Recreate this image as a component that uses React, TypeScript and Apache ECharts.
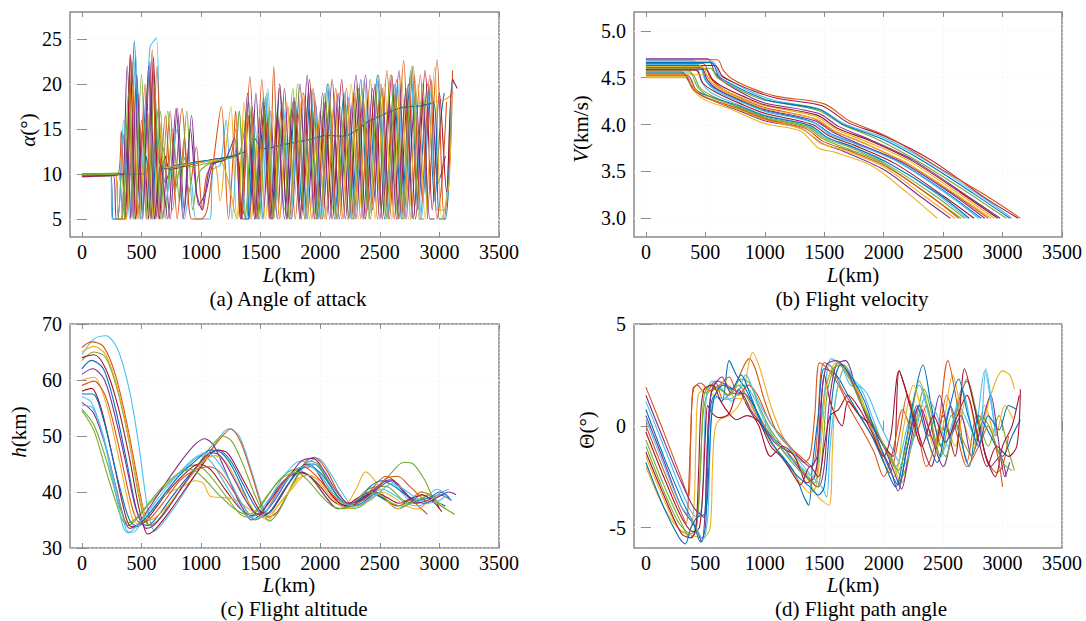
import React, { useEffect, useRef } from 'react';
import * as echarts from 'echarts';

const X_TICKS = [0, 500, 1000, 1500, 2000, 2500, 3000, 3500];
const ALPHA_TICKS = [5, 10, 15, 20, 25];
const V_TICKS = [3, 3.5, 4, 4.5, 5];
const H_TICKS = [30, 40, 50, 60, 70];
const THETA_TICKS = [-5, 0, 5];
const COLORS = ['#0072BD', '#D95319', '#EDB120', '#7E2F8E', '#77AC30', '#4DBEEE', '#A2142F'];

// (a) angle of attack, deg vs range km
const ALPHA_LINES: number[][][] = [
  [[0,9.8],[240,9.9],[262,5],[300,5],[345,14.5],[385,6],[440,24.8],[490,5],[540,19],[590,5],[640,17.2],[700,9],[760,10.8],[900,11.2],[1050,11.5],[1200,11.8],[1300,12],[1330,7],[1380,5],[1430,17.5],[1480,5],[1540,18.5],[1600,5],[1660,19.5],[1720,5],[1790,18],[1850,6],[1920,19.5],[1980,5],[2060,20],[2120,5],[2200,19],[2260,5],[2340,20.5],[2400,6],[2480,21],[2540,5],[2620,20],[2680,5],[2760,21.5],[2820,6],[2900,20],[2960,7],[3010,16],[3040,19]],
  [[0,9.7],[300,9.9],[330,14.8],[360,5],[410,23.2],[455,5],[500,16],[540,5],[590,23.8],[640,5],[700,16.5],[760,6],[840,17.3],[900,8],[960,13],[1010,6],[1050,10],[1150,11.6],[1250,12],[1290,17],[1330,5],[1390,16.5],[1450,5],[1510,20.5],[1570,5],[1610,21.9],[1660,5],[1730,17.5],[1790,5],[1860,19],[1930,5],[2000,17],[2050,5],[2130,19.5],[2190,5],[2280,19],[2340,5],[2420,20.5],[2480,5],[2560,21.5],[2620,5],[2700,22.6],[2760,5],[2840,21],[2900,6],[2980,22.7],[3040,5],[3090,12],[3110,21.5]],
  [[0,9.9],[500,10],[530,9.8],[560,12],[600,5],[650,16],[700,10.5],[800,10.8],[950,11.2],[1100,11.5],[1160,7],[1200,11.8],[1250,17.5],[1300,5],[1360,16],[1420,5],[1500,17],[1560,12.9],[1700,13.2],[1850,13.6],[2000,14],[2150,14.2],[2250,14.5],[2350,15.5],[2450,16.2],[2550,16.8],[2650,17.3],[2800,17.8],[2950,18],[3050,18.3],[3120,19]],
  [[0,9.8],[260,10],[290,5],[330,5],[380,22],[430,5],[470,19],[510,6],[570,22.5],[620,5],[680,13],[740,5],[800,17.3],[860,6],[920,16.5],[980,6.5],[1040,8],[1100,11],[1200,11.6],[1300,12],[1350,5],[1400,5],[1460,19],[1520,5],[1580,17],[1640,5],[1700,19.5],[1760,5],[1830,20],[1890,5],[1960,18],[2020,5],[2100,20.5],[2160,5],[2240,18.5],[2300,5],[2380,21],[2440,6],[2520,19.5],[2580,5],[2660,21.5],[2720,5],[2800,19],[2860,7],[2930,20.5],[2990,9],[3050,12]],
  [[0,10],[320,10.1],[360,5],[400,21],[445,5],[500,8],[560,21.5],[610,5],[660,17],[700,5],[760,15],[820,7],[880,17],[930,6],[980,10],[1050,11],[1200,11.7],[1320,12.2],[1400,18],[1460,6],[1520,18.5],[1580,5],[1640,17],[1700,6],[1770,19.5],[1830,5],[1900,18.5],[1960,5],[2040,19],[2100,6],[2170,17.5],[2230,5],[2310,20],[2370,5],[2450,18],[2510,6],[2590,21],[2650,5],[2720,19],[2780,5],[2860,20],[2900,5]],
  [[0,9.8],[240,9.8],[255,5],[300,5],[350,16],[400,5],[450,23.5],[500,5],[570,24],[625,25.1],[670,5],[720,8],[800,15],[860,5],[920,9],[960,5],[1070,5],[1100,10.5],[1160,11],[1210,16],[1260,5],[1320,17],[1380,5],[1450,15.5],[1510,5],[1560,19.5],[1620,6],[1690,17.5],[1750,5],[1820,16.5],[1880,5],[1950,19],[2010,5],[2080,17.5],[2140,5],[2230,18],[2290,5],[2370,20.5],[2430,7],[2500,19],[2560,5],[2650,20],[2710,5],[2790,21],[2850,5],[2920,19.5],[2980,6],[3040,6],[3100,19],[3120,20.5]],
  [[0,9.7],[280,9.9],[310,5],[360,5],[405,23.3],[450,5],[510,15],[560,5],[600,23],[650,5],[700,12],[740,10.5],[900,11],[1000,11.3],[1100,11.6],[1250,11.9],[1300,12.1],[1340,5],[1400,16.5],[1460,5],[1530,17.5],[1590,5],[1660,20],[1720,5],[1780,18.5],[1840,5],[1910,20.5],[1970,5],[2040,18],[2100,5],[2180,20.5],[2240,5],[2320,19.5],[2380,5],[2460,20],[2520,5],[2600,21],[2660,5],[2740,20],[2800,5],[2880,21.5],[2940,6],[3000,19],[3060,8],[3110,20.5],[3150,19.5]],
  [[0,10],[520,10],[540,12],[580,5],[620,14],[680,10.6],[850,11],[1000,11.4],[1200,11.8],[1330,12.3],[1380,12.5],[1400,5],[1450,14],[1520,12.8],[1700,13.3],[1900,13.8],[2050,14.3],[2200,14.2],[2300,14.8],[2400,15.8],[2500,16.4],[2600,17],[2700,17.4],[2850,17.6],[2950,17.9],[3000,5],[3050,5],[3100,18]],
  [[0,9.8],[330,10],[370,5],[420,22.5],[470,5],[530,20],[580,5],[630,22],[680,5],[740,17],[800,5],[860,14],[920,5],[1000,5],[1050,6],[1100,11],[1170,17.5],[1230,5],[1290,15],[1340,5],[1410,20.8],[1470,5],[1540,16],[1600,5],[1680,18],[1740,5],[1810,17],[1870,5],[1940,19.5],[2000,5],[2080,18],[2140,5],[2220,19.5],[2280,5],[2360,18.5],[2420,5],[2510,20],[2570,5],[2640,20.5],[2700,5],[2780,22],[2840,5],[2920,21],[2980,5],[3020,9],[3060,18]],
  [[0,9.9],[280,10],[310,5],[370,5],[430,20],[480,5],[550,17],[600,5],[660,14],[700,10.7],[850,11],[1000,11.3],[1150,11.6],[1300,5],[1360,18],[1420,5],[1480,14.5],[1540,5],[1600,17],[1660,5],[1720,18],[1780,7],[1850,19],[1910,5],[1980,16],[2040,5],[2120,18.5],[2180,5],[2260,20],[2320,5],[2400,19],[2460,5],[2540,20],[2600,5],[2680,21],[2740,5],[2820,20],[2880,5],[2960,21.8],[3020,5],[3080,9],[3100,18.5]],
  [[0,9.8],[350,10],[380,14],[410,5],[460,21],[510,5],[560,22],[610,5],[660,11],[720,5],[790,17.3],[850,5],[910,15],[960,8],[1010,6],[1080,11],[1200,11.6],[1280,14],[1330,5],[1390,19],[1450,5],[1520,18],[1580,5],[1640,16.5],[1700,5],[1770,18],[1830,5],[1890,21],[1950,5],[2020,19],[2080,5],[2150,19],[2210,5],[2300,21],[2360,5],[2440,19.5],[2500,5],[2580,18],[2640,5],[2720,19.5],[2780,5],[2860,18.5],[2920,5],[2960,5]],
  [[0,9.9],[300,10],[340,5],[390,19],[440,5],[500,21],[550,5],[610,20],[660,5],[720,17],[780,8],[850,12],[900,10.8],[1050,11.2],[1200,11.7],[1280,12],[1320,17],[1370,5],[1430,16],[1490,5],[1550,19],[1610,5],[1680,16],[1740,5],[1810,20],[1870,5],[1940,17],[2000,5],[2070,20],[2130,5],[2210,17.5],[2270,5],[2350,19.5],[2410,5],[2490,21],[2550,5],[2630,19],[2690,5],[2770,22],[2830,5],[2870,5]],
];

// (b) flight velocity, km/s vs range km
const VEL_LINES: number[][][] = [
  [[0,4.50],[330,4.50],[400,4.36],[500,4.26],[700,4.17],[1000,4.01],[1300,3.93],[1450,3.75],[1600,3.70],[1900,3.56],[2200,3.27],[2450,3.00]],
  [[0,4.52],[350,4.52],[420,4.37],[520,4.28],[800,4.14],[1000,4.04],[1300,3.96],[1480,3.80],[1650,3.72],[2000,3.52],[2300,3.24],[2560,3.00]],
  [[0,4.55],[380,4.55],[450,4.40],[550,4.31],[800,4.17],[1000,4.07],[1350,3.97],[1500,3.84],[1700,3.74],[2000,3.58],[2400,3.23],[2650,3.00]],
  [[0,4.68],[400,4.68],[470,4.45],[560,4.33],[800,4.20],[1000,4.10],[1350,4.00],[1520,3.86],[1700,3.78],[2000,3.62],[2400,3.30],[2700,3.00]],
  [[0,4.58],[420,4.58],[480,4.44],[580,4.35],[800,4.22],[1000,4.12],[1400,4.00],[1540,3.88],[1750,3.78],[2100,3.58],[2500,3.24],[2760,3.00]],
  [[0,4.62],[450,4.62],[510,4.46],[600,4.37],[800,4.25],[1000,4.15],[1400,4.03],[1560,3.90],[1800,3.78],[2100,3.62],[2500,3.30],[2820,3.00]],
  [[0,4.65],[480,4.65],[540,4.50],[620,4.40],[800,4.28],[1000,4.18],[1400,4.07],[1580,3.93],[1800,3.82],[2200,3.58],[2600,3.25],[2880,3.00]],
  [[0,4.53],[500,4.53],[550,4.45],[640,4.38],[800,4.29],[1000,4.20],[1420,4.09],[1600,3.95],[1850,3.82],[2200,3.62],[2600,3.29],[2930,3.00]],
  [[0,4.70],[520,4.70],[580,4.55],[660,4.45],[850,4.31],[1000,4.23],[1450,4.12],[1620,3.98],[1900,3.83],[2250,3.62],[2700,3.24],[2980,3.00]],
  [[0,4.60],[540,4.60],[600,4.50],[680,4.44],[850,4.33],[1000,4.26],[1450,4.15],[1650,4.00],[1950,3.84],[2300,3.60],[2700,3.28],[3030,3.00]],
  [[0,4.67],[560,4.67],[620,4.53],[700,4.47],[900,4.34],[1100,4.25],[1450,4.17],[1680,4.00],[2000,3.86],[2350,3.62],[2800,3.25],[3080,3.00]],
  [[0,4.63],[580,4.63],[640,4.52],[720,4.46],[900,4.36],[1100,4.28],[1480,4.20],[1700,4.02],[2000,3.88],[2400,3.62],[2850,3.22],[3130,3.00]],
  [[0,4.56],[300,4.56],[380,4.42],[470,4.33],[800,4.19],[1000,4.09],[1380,3.99],[1530,3.86],[1720,3.77],[2050,3.58],[2450,3.27],[2720,3.00]],
  [[0,4.69],[600,4.69],[650,4.58],[720,4.49],[900,4.38],[1100,4.30],[1500,4.22],[1710,4.04],[2050,3.86],[2450,3.55],[2850,3.25],[3150,3.00]],
  [[0,4.51],[340,4.51],[410,4.38],[500,4.29],[800,4.15],[1000,4.05],[1320,3.95],[1470,3.80],[1680,3.72],[2000,3.55],[2350,3.23],[2600,3.00]],
  [[0,4.61],[460,4.61],[520,4.47],[600,4.38],[800,4.26],[1000,4.16],[1420,4.04],[1570,3.92],[1780,3.80],[2150,3.60],[2550,3.28],[2850,3.00]],
  [[0,4.57],[360,4.57],[430,4.41],[530,4.30],[800,4.18],[1000,4.08],[1360,3.98],[1510,3.85],[1710,3.76],[2020,3.58],[2420,3.25],[2680,3.00]],
  [[0,4.64],[440,4.64],[500,4.47],[590,4.36],[800,4.24],[1000,4.14],[1410,4.02],[1550,3.89],[1770,3.79],[2120,3.60],[2520,3.27],[2800,3.00]],
  [[0,4.59],[500,4.59],[560,4.48],[650,4.40],[820,4.30],[1000,4.21],[1440,4.10],[1610,3.96],[1880,3.83],[2230,3.62],[2650,3.27],[2960,3.00]],
  [[0,4.66],[550,4.66],[610,4.52],[690,4.45],[880,4.33],[1050,4.25],[1460,4.16],[1660,4.00],[1980,3.85],[2330,3.61],[2760,3.26],[3060,3.00]],
  [[0,4.54],[320,4.54],[390,4.39],[480,4.30],[780,4.17],[1000,4.06],[1340,3.96],[1490,3.82],[1690,3.73],[2010,3.56],[2380,3.25],[2630,3.00]],
  [[0,4.62],[470,4.62],[530,4.48],[610,4.39],[800,4.27],[1000,4.17],[1430,4.06],[1590,3.93],[1820,3.81],[2180,3.60],[2580,3.28],[2900,3.00]],
];

// (c) flight altitude, km vs range km
const ALT_LINES: number[][][] = [
  [[0,54.5],[100,51],[200,44],[280,38.5],[340,35],[390,34],[450,35],[550,37.5],[700,41],[850,44],[950,44.8],[1050,43.5],[1200,39.5],[1330,36],[1400,35.5],[1500,37.5],[1650,42],[1780,44],[1900,43],[2050,39],[2150,37],[2250,37.5],[2400,40.5],[2550,41],[2700,38.5],[2800,38],[2900,39.5],[2960,38]],
  [[0,64.5],[100,67.3],[200,67.9],[300,65.5],[400,58],[480,48],[530,40],[570,35],[610,33],[680,34.5],[800,38],[950,43],[1100,48],[1230,51.3],[1320,50],[1420,44],[1500,38.5],[1570,35.5],[1650,36.5],[1760,41],[1880,45],[1980,46],[2080,43.5],[2180,40],[2280,37.5],[2380,38],[2480,41],[2580,42],[2680,40],[2780,38],[2880,39],[2980,40.5],[3060,39.5],[3100,38.5]],
  [[0,58],[80,58.5],[160,55],[260,46],[340,38],[400,34],[460,33.8],[560,35.5],[700,39.5],[850,43],[980,45],[1080,44],[1200,40.5],[1330,37],[1430,35.8],[1530,37],[1650,40.5],[1800,43.5],[1900,43],[2000,41],[2100,38.5],[2200,37.5],[2320,39],[2420,40],[2520,39],[2650,37.5],[2750,38.5],[2850,40],[2950,39],[3000,37]],
  [[0,62],[80,63.5],[180,62],[280,55],[380,45],[450,37.5],[500,34.5],[550,34],[630,35.5],[750,39],[900,43],[1050,46.5],[1150,47.5],[1250,45.5],[1350,41.5],[1450,37.5],[1520,35.8],[1600,37],[1720,41],[1850,44.5],[1950,45],[2050,42.5],[2150,39],[2250,37.5],[2350,38],[2450,39.5],[2550,38.5],[2650,37],[2750,38],[2850,39.5],[2950,38.5],[3050,37.5]],
  [[0,65.8],[80,66.8],[180,66],[280,61],[380,52],[460,43],[520,36.5],[570,34],[640,35],[760,38.5],[900,42.5],[1050,46.5],[1180,50],[1250,51.3],[1330,49],[1420,43.5],[1500,38],[1560,35.5],[1640,36.5],[1760,41],[1880,45.5],[1950,46.2],[2050,44],[2150,40],[2250,37.5],[2350,38.5],[2450,41],[2550,42.8],[2650,41.5],[2750,39],[2850,37],[2900,36]],
  [[0,60],[100,60.5],[200,56],[300,47],[380,39],[430,35],[480,34.3],[560,36],[700,39.5],[850,41],[950,42],[1020,41.5],[1080,39.2],[1200,39],[1300,38.5],[1400,37],[1480,36],[1560,35],[1640,37.5],[1760,40.5],[1880,43],[2000,42],[2100,39.5],[2200,37.5],[2300,40.5],[2380,43.6],[2460,42],[2560,38.5],[2650,37],[2750,38.5],[2850,40],[2950,39],[3050,37]],
  [[0,56],[100,54],[200,48],[290,40.5],[350,35.5],[400,33.5],[460,34],[560,37],[700,41.5],[850,46],[950,48.5],[1030,49.5],[1100,48.5],[1200,44],[1300,39],[1380,36],[1420,35],[1500,36],[1600,39.5],[1720,42.5],[1850,43.5],[1950,42],[2050,39],[2150,37],[2250,37.8],[2350,39],[2450,40.5],[2550,42],[2600,42.2],[2700,40],[2800,38],[2900,38.5],[3000,39.5],[3100,38.5]],
  [[0,63.5],[100,65],[200,64],[300,58],[400,48.5],[470,40],[520,35.5],[570,34],[640,35],[780,39],[930,43.5],[1080,48],[1180,50],[1260,49],[1360,44.5],[1450,39.5],[1530,36],[1570,34.8],[1650,36.5],[1780,42],[1900,45.5],[1980,45],[2080,41.5],[2180,38],[2280,37],[2380,38],[2480,40.5],[2600,43.5],[2700,45.3],[2780,45],[2880,42],[2960,38.5],[3050,37],[3130,36]],
  [[0,55.5],[90,55],[180,50],[270,42],[340,36],[380,33],[430,32.8],[500,34.5],[620,37.5],[760,41.5],[900,45],[1000,46.5],[1080,45.5],[1200,41.5],[1320,37.5],[1400,35.5],[1470,36],[1580,39],[1700,43],[1830,45.5],[1920,45],[2020,42.5],[2120,39],[2220,37.5],[2320,38],[2420,39.5],[2520,40.5],[2620,39.5],[2720,38],[2820,37.5],[2920,38.5],[3020,40],[3080,40.5]],
  [[0,64],[100,64.5],[200,62],[300,55.5],[400,46],[460,39],[510,34.5],[550,32.5],[600,33],[700,35.5],[850,40],[1000,44.5],[1130,47.5],[1220,47],[1320,43.5],[1420,39.5],[1500,36.5],[1560,36.2],[1650,38.5],[1780,43],[1880,45],[1960,44],[2060,40.5],[2160,38],[2260,37.5],[2360,39],[2460,40],[2560,39],[2660,38],[2760,38.8],[2860,39.5],[2960,38],[3020,36.5]],
  [[0,57.5],[90,57.5],[180,53],[270,45],[340,39],[400,35],[450,34],[520,35],[650,38.5],[800,42.5],[950,45.5],[1080,47.5],[1170,47],[1260,44.5],[1360,40],[1440,36.5],[1500,35.5],[1580,36.5],[1700,40.5],[1830,44],[1920,44.5],[2020,43],[2120,40],[2220,38],[2320,38.5],[2420,41],[2520,42],[2620,41],[2720,39.5],[2820,38.5],[2920,39],[3000,40],[3080,39]],
  [[0,59],[100,59.8],[200,57],[300,49],[380,41],[440,36],[490,34.5],[560,35],[680,38],[820,42],[960,44],[1060,44.5],[1160,43.5],[1260,40.5],[1370,37],[1450,35],[1530,36],[1640,40],[1760,43.5],[1860,44.5],[1960,43],[2060,40.5],[2160,38.5],[2260,38],[2360,38.5],[2460,40.5],[2560,42.5],[2650,42.8],[2750,41],[2850,39],[2900,38]],
  [[0,65],[100,66],[200,64.5],[300,58.5],[390,50],[460,42],[510,37],[560,35],[620,35.5],[740,38],[880,42],[1020,45.5],[1120,46.5],[1220,45],[1320,41],[1420,37.5],[1500,35.5],[1580,36],[1700,39],[1820,42.5],[1920,43],[2020,41],[2120,38.5],[2220,37],[2320,37.5],[2420,38.5],[2520,40],[2620,39],[2720,37.5],[2820,37],[2920,38.5],[3020,39.5]],
  [[0,61],[90,62],[190,60],[290,52.5],[380,44],[440,38],[490,35],[540,33.5],[600,34],[720,37],[860,41.5],[980,45],[1080,47],[1160,46.5],[1260,43],[1360,39],[1440,36.5],[1500,36],[1600,38],[1720,42],[1840,45.5],[1940,46],[2040,43.5],[2140,40],[2240,38],[2340,38.5],[2440,40],[2540,41.5],[2600,42],[2680,40.5],[2780,38.5],[2880,38],[2980,39],[3080,40],[3140,39.5]],
  [[0,54.8],[100,52],[200,46],[280,40],[330,36.5],[380,34.5],[440,35],[540,37.5],[680,41],[820,43.5],[920,44],[1020,42.5],[1150,39.5],[1280,37],[1380,36],[1450,36.5],[1560,39.5],[1680,42.5],[1800,43.5],[1900,42],[2000,39.5],[2100,37.5],[2200,37],[2300,38.5],[2400,40],[2500,39.5],[2600,38],[2700,37.5],[2800,38.5],[2880,39]],
  [[0,57],[80,56],[170,50.5],[250,43],[310,37],[350,33.5],[390,32.7],[440,33.5],[540,36],[680,40],[820,43.5],[940,46],[1040,47],[1120,46],[1240,42],[1340,38],[1420,35.5],[1480,35.2],[1560,37],[1680,41],[1800,44],[1900,44.8],[2000,43],[2100,40],[2200,38],[2300,37.5],[2400,38.5],[2500,40],[2600,41.5],[2700,40.5],[2800,39],[2900,38],[3000,38.5],[3060,39.5]],
];

// (d) flight path angle, deg vs range km
const PATH_LINES: number[][][] = [
  [[0,1.9],[150,-0.3],[300,-2.6],[360,-3.5],[375,-1],[395,1.8],[430,2],[500,1.6],[580,2.2],[650,1.3],[750,2],[870,3.3],[920,2.8],[1000,1.2],[1100,-0.3],[1200,-1],[1300,-1.5],[1400,-2],[1440,-0.5],[1470,2.5],[1500,3.1],[1560,2.9],[1650,1.8],[1750,0.9],[1850,0],[1950,-1],[2050,-2.3],[2130,-0.5],[2200,1.5],[2280,0],[2360,-2],[2450,-0.5],[2540,3.2],[2620,1],[2700,-1.8],[2780,0.5],[2860,-1.5],[2950,-2.3],[3000,-2],[3050,-0.5]],
  [[0,-2],[150,-4],[300,-5.2],[400,-5.4],[480,-5.5],[540,-5],[560,-2],[580,-0.2],[620,0.3],[700,0.5],[800,1.2],[900,3.6],[960,2.8],[1050,1],[1150,-0.5],[1250,-1.5],[1350,-2.5],[1450,-3.5],[1540,-3.9],[1570,-1],[1600,1.5],[1680,2.9],[1750,2.2],[1850,0.8],[1950,-0.5],[2050,-1.5],[2150,-2.8],[2250,-0.5],[2330,1],[2420,-1],[2500,0.5],[2600,-1],[2700,1.5],[2800,-0.5],[2900,1.5],[3000,2.7],[3060,2.5],[3100,1.8]],
  [[0,0.5],[150,-1.7],[300,-4],[420,-5],[470,-5.7],[500,-4],[520,-0.5],[545,1.5],[600,2.2],[680,2],[760,1.7],[850,1.5],[950,0.5],[1050,-0.5],[1150,-1],[1250,-1.8],[1350,-2.5],[1450,-3],[1500,-2],[1540,1],[1600,3],[1680,3.2],[1760,2],[1850,0.5],[1950,-0.8],[2050,-2],[2120,-3.2],[2200,-1],[2300,1],[2400,-0.5],[2500,-2],[2600,0.5],[2700,2.2],[2800,0],[2900,-2],[2980,-1.5],[3030,-2.5]],
  [[0,-1],[150,-3.2],[280,-4.8],[380,-5.3],[430,-4.8],[460,-2],[480,0.5],[520,1.6],[600,1.9],[700,1.5],[800,2.3],[870,2.1],[950,1],[1050,-0.2],[1150,-1],[1250,-1.7],[1350,-2.4],[1420,-2.8],[1460,-1],[1500,1.5],[1570,2.8],[1660,3],[1760,1.8],[1860,0.5],[1960,-0.5],[2060,-1.5],[2150,-2.5],[2250,-0.5],[2340,1.8],[2430,0],[2520,-1.5],[2620,0.8],[2700,2.3],[2790,0.5],[2880,-1],[2970,0.5],[3040,-1],[3100,-2.2]],
  [[0,1.2],[150,-1],[300,-3.2],[380,-4.2],[430,-4.5],[470,-4],[490,-1],[510,1.5],[560,2.2],[640,1.8],[720,1.2],[820,2],[900,1.5],[1000,0.2],[1100,-0.8],[1200,-1.5],[1300,-2],[1400,-2.5],[1450,-1.5],[1490,1],[1560,3.3],[1640,3],[1720,2],[1800,1.9],[1900,0.5],[2000,-1],[2100,-2],[2200,0],[2300,2],[2380,0.5],[2480,-1.5],[2570,0],[2660,1.8],[2760,-0.5],[2850,2.7],[2920,0.5],[2950,-0.5]],
  [[0,-0.3],[150,-2.5],[300,-4.5],[400,-5.2],[450,-5],[480,-3],[500,-0.5],[520,1],[560,0.6],[620,0.4],[700,0.6],[780,1.8],[850,1],[950,0],[1050,-1.5],[1150,-1],[1250,-1.5],[1300,-2.2],[1350,-2.8],[1420,-2.5],[1460,-0.5],[1500,2.5],[1560,1],[1650,0],[1700,1.2],[1800,0.5],[1900,0],[2000,-1],[2080,-1.5],[2130,2.7],[2200,1.5],[2300,-0.5],[2400,-2],[2500,0.5],[2600,-1.5],[2680,2.8],[2760,1],[2860,-1.5],[2940,-2.5],[3000,-1],[3080,0],[3140,1.5]],
  [[0,0.8],[150,-1.5],[300,-3.6],[400,-4.8],[460,-5.7],[500,-5],[520,-2],[540,0.8],[580,1.5],[640,1.2],[700,3.2],[760,2.5],[840,1.8],[950,0.5],[1050,-0.8],[1150,-1.5],[1250,-2.3],[1330,-3.5],[1370,-3.9],[1400,-2],[1450,0.5],[1500,2.8],[1600,2.5],[1700,1.5],[1800,0.5],[1900,-0.5],[2000,-1.8],[2100,-3],[2180,-1],[2260,1.5],[2330,3],[2400,1],[2480,-1],[2560,1],[2640,-0.5],[2720,-2],[2800,0.5],[2900,-0.5],[3000,-1.5],[3080,-0.5],[3150,0.3]],
  [[0,0],[150,-2.2],[300,-4.3],[340,-4.8],[360,-3],[380,0],[400,1.8],[460,2.1],[540,1.7],[620,2],[700,2.4],[780,1.5],[860,2],[940,1.5],[1040,0.2],[1140,-0.5],[1240,-1.2],[1330,-1.8],[1380,-1.5],[1420,0.5],[1460,3.1],[1530,2.8],[1620,2],[1720,0.8],[1820,-0.2],[1920,-1.3],[2000,-2.5],[2080,-1.2],[2160,0.8],[2260,-0.5],[2360,1],[2440,-1],[2530,1.5],[2620,-0.5],[2700,-2],[2800,-1],[2880,0],[2960,-1.5],[3000,-3]],
  [[0,-1.5],[150,-3.6],[270,-5],[350,-5.3],[400,-4.3],[420,-1],[440,1.5],[500,1.8],[580,1.5],[660,2.2],[740,1.4],[820,1.3],[900,0.8],[1000,-0.3],[1100,-1.2],[1200,-2],[1300,-2.8],[1380,-3.3],[1430,-3],[1480,-0.5],[1520,2],[1600,3.1],[1700,2.5],[1800,1.5],[1900,-0.2],[2000,-1.5],[2090,-2.5],[2170,0],[2250,2],[2330,0.5],[2420,-1.5],[2500,0],[2580,2.5],[2660,0.5],[2750,-1],[2850,1],[2940,-0.5],[3020,1],[3090,0.3]],
  [[0,1.5],[150,-0.7],[300,-2.8],[400,-4],[450,-4.3],[490,-4.5],[510,-2],[530,0.5],[560,1.8],[640,2.4],[720,1.6],[800,1.6],[880,0.8],[980,0],[1080,-0.8],[1180,-1.2],[1280,-1.5],[1380,-2],[1440,-1.5],[1470,1],[1520,3],[1600,3.2],[1700,2.6],[1800,1.2],[1900,0],[2000,-1],[2090,-2.3],[2150,-3.1],[2220,-1],[2300,1],[2380,-0.5],[2470,1.5],[2560,-0.5],[2650,0.5],[2740,-1.5],[2820,0],[2900,1.5],[2960,-0.5],[3020,-2.5],[3060,-1.8]],
  [[0,-0.7],[150,-2.9],[300,-4.8],[370,-5.5],[420,-5.2],[450,-3],[470,-0.5],[490,1.5],[540,2],[620,1.8],[700,1.5],[780,2],[870,1.2],[960,0.3],[1060,-0.5],[1160,-1.3],[1260,-2],[1360,-2.6],[1440,-3],[1490,-1],[1530,1.8],[1620,3.1],[1720,2.2],[1820,1],[1920,0],[2020,-1.2],[2120,-2.2],[2220,0],[2300,2.2],[2390,0.5],[2480,-1.5],[2570,0.5],[2650,-0.5],[2740,-1.5],[2830,0.5],[2920,-0.5],[3000,-1.8],[3080,-2.2]],
  [[0,0.3],[150,-1.9],[300,-4],[390,-4.6],[440,-5.2],[480,-5.6],[520,-4.5],[540,-1],[560,1.2],[600,1.4],[680,1.3],[760,1.5],[840,2.5],[900,1.8],[1000,0.6],[1100,-0.3],[1200,-1],[1300,-1.8],[1400,-2.5],[1480,-3],[1520,-3.5],[1550,-1],[1600,1.5],[1680,2.9],[1760,2.2],[1860,1.6],[1960,0.2],[2060,-1],[2160,-2],[2260,-0.5],[2360,1.5],[2450,0.5],[2540,-1],[2630,1],[2720,0],[2800,-1],[2860,2.8],[2900,1.5],[2940,-0.5]],
  [[0,-1.3],[150,-3.4],[300,-5.3],[380,-5.5],[420,-5],[445,-2],[460,0.5],[490,1.8],[560,2],[630,1.2],[700,0.6],[760,0.3],[850,0.5],[950,0.2],[1050,-1],[1150,-1.6],[1250,-2.5],[1300,-2.9],[1380,-2],[1450,-2.5],[1500,-1],[1550,0.5],[1620,0.8],[1700,1.5],[1800,0.8],[1900,-0.3],[2000,-1.5],[2060,-0.5],[2130,2.7],[2220,1],[2320,-1],[2420,0.5],[2520,-0.8],[2620,0.5],[2700,1.5],[2790,-0.5],[2870,-2],[2950,-1],[3050,-1.5],[3120,-1],[3150,1.8]],
  [[0,-1.8],[150,-4],[280,-5.5],[330,-5.8],[380,-5],[430,-4.5],[500,-4.3],[530,-2],[550,0.3],[580,1.5],[650,2],[720,1.8],[800,2.5],[880,1.5],[980,0],[1080,-1],[1180,-1.8],[1280,-2.5],[1380,-3],[1450,-3.4],[1500,-3],[1540,-0.5],[1580,2],[1640,3],[1740,2.3],[1840,1.2],[1940,-0.5],[2040,-2],[2120,-2.9],[2200,-1],[2280,1],[2360,-0.5],[2450,-1.8],[2540,0.5],[2630,2.3],[2710,0.5],[2800,-1],[2880,0.5],[2970,-0.2],[3050,1],[3120,0.8]],
];

const FONT = 'Liberation Serif, Times New Roman, serif';
const FRAME = '#8a8a8a';

export default function App() {
  const ref = useRef<HTMLDivElement>(null);

  useEffect(() => {
    if (!ref.current) return;
    const chart = echarts.init(ref.current, undefined, { renderer: 'svg' });

    const panels = [
      { left: 70, top: 12, width: 429, height: 225, min: 3, max: 28, split: 5, ticks: ALPHA_TICKS, fmt: (v: number) => String(v), lines: ALPHA_LINES, off: 0 },
      { left: 634, top: 12, width: 428, height: 225, min: 2.8, max: 5.2, split: 5, ticks: V_TICKS, fmt: (v: number) => v.toFixed(1), lines: VEL_LINES, off: 2 },
      { left: 70, top: 324, width: 429, height: 224, min: 30, max: 70, split: 4, ticks: H_TICKS, fmt: (v: number) => String(v), lines: ALT_LINES, off: 4 },
      { left: 634, top: 324, width: 428, height: 224, min: -6, max: 5, split: 2, ticks: THETA_TICKS, fmt: (v: number) => String(v), lines: PATH_LINES, off: 1 },
    ];

    const grid: any[] = [];
    const xAxis: any[] = [];
    const yAxis: any[] = [];
    const series: any[] = [];

    panels.forEach((p, i) => {
      grid.push({ left: p.left, top: p.top, width: p.width, height: p.height, show: true, borderColor: FRAME, borderWidth: 1.5, backgroundColor: 'transparent' });
      const tick = { inside: true, length: 5, lineStyle: { color: FRAME, width: 1 } };
      xAxis.push({
        type: 'value', gridIndex: i, min: -100, max: 3500, splitNumber: 7, position: 'bottom',
        axisLine: { show: false },
        axisTick: { ...tick, customValues: X_TICKS },
        axisLabel: { customValues: X_TICKS, formatter: (v: number) => String(v), fontFamily: FONT, fontSize: 20, color: '#000', margin: 5 },
        splitLine: { show: true, lineStyle: { color: '#efefef', width: 1, type: [1, 3] } },
      });
      xAxis.push({
        type: 'value', gridIndex: i, min: -100, max: 3500, position: 'top',
        axisLine: { show: false },
        axisTick: { ...tick, customValues: X_TICKS },
        axisLabel: { show: false },
        splitLine: { show: false },
      });
      yAxis.push({
        type: 'value', gridIndex: i, min: p.min, max: p.max, splitNumber: p.split, position: 'left',
        axisLine: { show: false },
        axisTick: { ...tick, customValues: p.ticks },
        axisLabel: { customValues: p.ticks, formatter: p.fmt, fontFamily: FONT, fontSize: 20, color: '#000', margin: 8 },
        splitLine: { show: true, lineStyle: { color: '#efefef', width: 1, type: [1, 3] } },
      });
      yAxis.push({
        type: 'value', gridIndex: i, min: p.min, max: p.max, position: 'right',
        axisLine: { show: false },
        axisTick: { ...tick, customValues: p.ticks },
        axisLabel: { show: false },
        splitLine: { show: false },
      });
      p.lines.forEach((line, j) => {
        series.push({
          type: 'line', xAxisIndex: 2 * i, yAxisIndex: 2 * i, data: line,
          showSymbol: false, symbol: 'none', smooth: 0.3, silent: true,
          lineStyle: { width: 1.1, color: COLORS[(j + p.off) % COLORS.length] },
          emphasis: { disabled: true },
        });
      });
    });

    const rich = { i: { fontStyle: 'italic', fontFamily: FONT, fontSize: 21, fill: '#000' } };
    const txt = (x: number, y: number, text: string, rotation = 0) => ({
      type: 'text', x, y, rotation, silent: true,
      style: { text, fontFamily: FONT, fontSize: 21, fill: '#000', align: 'center', verticalAlign: 'middle', rich },
    });

    const graphic = [
      txt(289, 275, '{i|L}(km)'),
      txt(853, 275, '{i|L}(km)'),
      txt(289, 585, '{i|L}(km)'),
      txt(853, 585, '{i|L}(km)'),
      txt(288, 299, '(a) Angle of attack'),
      txt(852, 299, '(b) Flight velocity'),
      txt(294, 609, '(c) Flight altitude'),
      txt(861, 609, '(d) Flight path angle'),
      txt(28, 130, '{i|α}(°)', Math.PI / 2),
      txt(581, 129, '{i|V}(km/s)', Math.PI / 2),
      txt(19, 432, '{i|h}(km)', Math.PI / 2),
      txt(587, 430, 'Θ(°)', Math.PI / 2),
    ];

    chart.setOption({
      animation: false,
      backgroundColor: '#ffffff',
      grid, xAxis, yAxis, series, graphic,
    });

    return () => chart.dispose();
  }, []);

  return <div ref={ref} style={{ position: 'fixed', left: 0, top: 0, width: 1086, height: 621, background: '#fff' }} />;
}
